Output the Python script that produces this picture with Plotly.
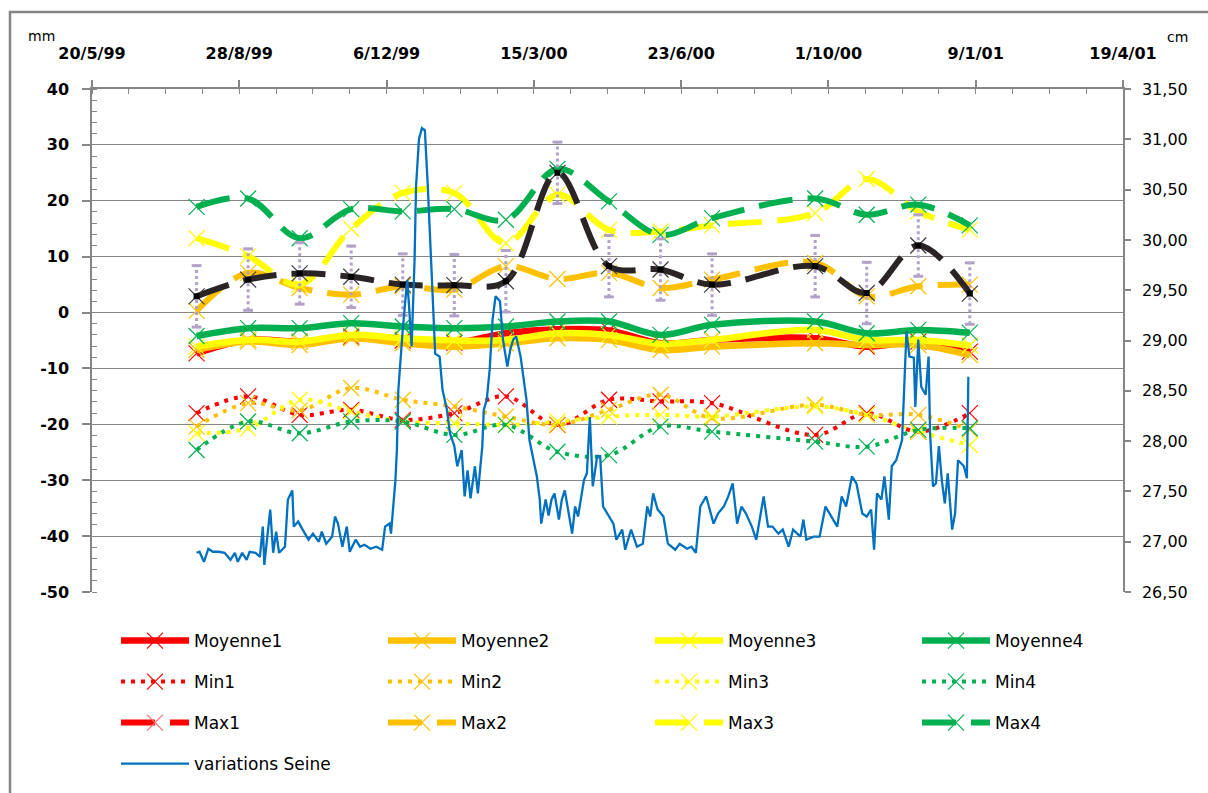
import pandas as pd
import plotly.graph_objects as go

# ---------------------------------------------------------------- données
debut = pd.Timestamp("1999-05-20")

# Relevés tous les 35 jours (pas de relevé à la mi-août 2000)
dates_releves = ["1999-07-30", "1999-09-03", "1999-10-08", "1999-11-12", "1999-12-17",
                 "2000-01-21", "2000-02-25", "2000-03-31", "2000-05-05", "2000-06-09",
                 "2000-07-14", "2000-09-22", "2000-10-27", "2000-12-01", "2001-01-05"]

moyenne1 = [-7.3, -4.9, -5.2, -4.3, -5.0, -5.4, -3.7, -3.0, -3.2, -5.5, -4.9, -4.6, -6.1, -5.2, -7.0]
moyenne2 = [-6.7, -5.2, -5.8, -4.6, -5.5, -6.1, -5.5, -4.6, -4.9, -6.7, -6.1, -5.5, -5.8, -5.8, -7.6]
moyenne3 = [-6.1, -4.9, -5.2, -4.0, -4.6, -5.0, -4.9, -3.7, -4.0, -5.6, -4.9, -3.1, -4.9, -4.9, -5.9]
moyenne4 = [-4.2, -2.8, -2.8, -1.9, -2.5, -2.8, -2.5, -1.6, -1.6, -4.0, -2.2, -1.6, -3.7, -3.1, -3.6]

min1 = [-18.0, -15.0, -18.3, -17.4, -19.2, -18.0, -15.0, -20.1, -15.6, -15.9, -16.2, -21.9, -18.0, -21.3, -18.0]
min2 = [-20.4, -16.2, -17.5, -13.5, -15.6, -16.8, -18.6, -20.1, -17.4, -14.7, -18.9, -16.5, -18.3, -18.3, -21.0]
min3 = [-21.6, -20.7, -15.6, -17.7, -19.5, -19.8, -20.1, -19.5, -18.6, -18.3, -18.6, -16.8, -18.3, -21.3, -23.7]
min4 = [-24.6, -19.5, -21.6, -19.5, -19.5, -21.9, -20.1, -24.9, -25.5, -20.4, -21.3, -23.1, -24.0, -21.0, -20.7]

max1 = [2.9, 5.9, 7.0, 6.4, 5.0, 4.9, 5.6, 25.0, 8.3, 7.7, 5.0, 8.3, 3.5, 12.0, 3.4]
max2 = [0.3, 7.1, 4.4, 3.2, 4.7, 4.1, 8.3, 6.0, 7.1, 4.4, 5.9, 8.9, 2.9, 4.7, 5.0]
max3 = [13.3, 10.1, 5.0, 15.0, 21.4, 21.4, 12.4, 21.1, 14.8, 14.5, 15.6, 17.8, 23.9, 18.1, 14.8]
max4 = [18.9, 20.4, 13.3, 18.5, 18.1, 18.5, 16.6, 25.7, 19.9, 13.9, 16.9, 20.4, 17.5, 19.3, 15.6]
ecart_max1 = 5.5   # barre d'erreur (mm)

# Cote de la Seine (cm) : jour compté depuis le 20/5/99
seine_jours = [
    71, 73, 76, 79, 82, 86, 90, 94, 97, 99,
    102, 105, 107, 111, 114, 116, 117, 121, 123, 125,
    127, 131, 133, 136, 137, 140, 143, 147, 150, 154,
    156, 159, 163, 165, 167, 170, 173, 175, 179, 182,
    185, 189, 193, 197, 199, 202, 203, 206, 207, 208,
    211, 214, 215, 217, 219, 220, 222, 224, 226, 228,
    231, 233, 236, 238, 241, 243, 246, 248, 251, 253,
    255, 257, 260, 262, 265, 266, 268, 270, 272, 274,
    277, 279, 282, 284, 286, 288, 291, 293, 295, 297,
    300, 302, 304, 305, 308, 310, 312, 314, 317, 319,
    321, 323, 326, 328, 330, 334, 336, 338, 340, 343,
    345, 347, 350, 354, 356, 360, 362, 366, 370, 374,
    377, 379, 381, 384, 388, 391, 396, 399, 404, 407,
    410, 413, 417, 422, 425, 429, 432, 435, 438, 441,
    444, 448, 451, 456, 459, 462, 466, 469, 473, 476,
    481, 483, 485, 490, 494, 498, 502, 506, 509, 512,
    516, 519, 523, 526, 529, 531, 533, 536, 538, 541,
    543, 546, 550, 551, 553, 555, 558, 559, 561, 563,
    566, 568, 569, 571, 573, 575, 577, 579, 581, 584,
    586, 588, 592, 594, 595]
seine_cm = [
    26.89, 26.90, 26.80, 26.93, 26.90, 26.90, 26.89, 26.82, 26.89, 26.80,
    26.89, 26.82, 26.90, 26.89, 26.85, 27.15, 26.77, 27.32, 26.89, 27.10,
    26.89, 26.95, 27.42, 27.51, 27.15, 27.20, 27.12, 27.02, 27.08, 27.00,
    27.10, 26.98, 27.05, 27.25, 27.18, 26.95, 27.15, 26.90, 27.02, 26.95,
    26.97, 26.93, 26.95, 26.92, 27.15, 27.18, 27.08, 27.61, 27.91, 28.51,
    29.11, 29.60, 29.40, 28.94, 29.80, 30.53, 31.00, 31.11, 31.09, 30.53,
    29.54, 28.87, 28.84, 28.51, 28.31, 28.08, 27.95, 27.75, 27.91, 27.45,
    27.71, 27.43, 27.75, 27.48, 27.95, 28.31, 28.41, 28.71, 29.21, 29.44,
    29.39, 29.01, 28.74, 28.91, 29.01, 29.04, 28.84, 28.61, 28.41, 28.01,
    27.81, 27.65, 27.42, 27.18, 27.42, 27.26, 27.42, 27.48, 27.22, 27.42,
    27.51, 27.32, 27.08, 27.35, 27.25, 27.61, 27.68, 28.24, 27.55, 27.85,
    27.85, 27.35, 27.28, 27.18, 27.02, 27.12, 26.92, 27.12, 26.95, 26.98,
    27.35, 27.25, 27.48, 27.32, 27.25, 26.98, 26.92, 26.98, 26.93, 26.95,
    26.89, 27.35, 27.45, 27.18, 27.28, 27.35, 27.45, 27.58, 27.18, 27.35,
    27.28, 27.15, 27.02, 27.45, 27.15, 27.15, 27.08, 27.12, 26.95, 27.12,
    27.05, 27.22, 27.02, 27.05, 27.05, 27.35, 27.25, 27.15, 27.45, 27.35,
    27.65, 27.58, 27.28, 27.25, 27.32, 26.92, 27.48, 27.42, 27.65, 27.22,
    27.75, 27.81, 28.01, 28.41, 29.09, 28.84, 28.83, 28.34, 29.01, 28.54,
    28.46, 28.84, 28.08, 27.55, 27.58, 27.95, 27.61, 27.38, 27.68, 27.12,
    27.28, 27.81, 27.75, 27.63, 28.64]

# Axe des dates : graduations tous les 100 jours
x_ticks = ["1999-05-20", "1999-08-28", "1999-12-06", "2000-03-15",
           "2000-06-23", "2000-10-01", "2001-01-09", "2001-04-19"]
x_labels = ["20/5/99", "28/8/99", "6/12/99", "15/3/00",
            "23/6/00", "1/10/00", "9/1/01", "19/4/01"]

# Axe de gauche (mm) : libellés avec un simple trait d'union
y_ticks = [-50, -40, -30, -20, -10, 0, 10, 20, 30, 40]
y_labels = [str(v) for v in y_ticks]

# ---------------------------------------------------------------- mise en page
W, H = 1208, 793
ML, MR, MT, MB = 92, 85, 89, 201
PW, PH = W - ML - MR, H - MT - MB


def fx(p):
    """pixel horizontal -> coordonnée papier"""
    return (p - ML) / PW


def fy(p):
    """pixel vertical -> coordonnée papier"""
    return (H - MB - p) / PH


ROUGE, ORANGE, JAUNE, VERT = "#FF0000", "#FFC000", "#FFFF00", "#00B050"
BLEU, FONCE, LAVANDE, GRIS = "#0070C0", "#2B2424", "#B3A2C7", "#868686"
POLICE = "DejaVu Sans"

TIRETS = "34px,15px"
POINTS = "4px,6px"

# légende : 4 colonnes x 4 lignes
col_px = [121, 388, 655, 922]
row_px = [641, 682, 723, 764]


def legende_id(rang, col):
    n = rang * 4 + col + 1
    return "legend" if n == 1 else f"legend{n}"


fig = go.Figure()


def serie(nom, y, couleur, dash, largeur, rang, col, afficher_legende=True):
    fig.add_trace(go.Scatter(
        x=dates_releves, y=y, name=nom, mode="lines+markers",
        line=dict(color=couleur, width=largeur, dash=dash, shape="spline", smoothing=1),
        marker=dict(symbol="x-thin", size=16, line=dict(color=couleur, width=1.2)),
        legend=legende_id(rang, col), showlegend=afficher_legende))


# moyennes (traits pleins)
serie("Moyenne1", moyenne1, ROUGE, "solid", 6.5, 0, 0)
serie("Moyenne2", moyenne2, ORANGE, "solid", 6.5, 0, 1)
serie("Moyenne3", moyenne3, JAUNE, "solid", 6.5, 0, 2)
serie("Moyenne4", moyenne4, VERT, "solid", 6.5, 0, 3)

# minima (pointillés)
serie("Min1", min1, ROUGE, POINTS, 4, 1, 0)
serie("Min2", min2, ORANGE, POINTS, 4, 1, 1)
serie("Min3", min3, JAUNE, POINTS, 4, 1, 2)
serie("Min4", min4, VERT, POINTS, 4, 1, 3)

# maxima (tirets)
serie("Max2", max2, ORANGE, TIRETS, 6, 2, 1)
serie("Max3", max3, JAUNE, TIRETS, 6, 2, 2)
serie("Max4", max4, VERT, TIRETS, 6, 2, 3)

# Max1 : barres d'erreur en pointillés lavande
ex, ey = [], []
for d, v in zip(dates_releves, max1):
    ex += [d, d, None]
    ey += [v - ecart_max1, v + ecart_max1, None]
fig.add_trace(go.Scatter(x=ex, y=ey, mode="lines", showlegend=False, hoverinfo="skip",
                         line=dict(color=LAVANDE, width=3, dash="3px,3px")))
fig.add_trace(go.Scatter(
    x=dates_releves * 2,
    y=[v - ecart_max1 for v in max1] + [v + ecart_max1 for v in max1],
    mode="markers", showlegend=False, hoverinfo="skip",
    marker=dict(symbol="line-ew", size=7, line=dict(color=LAVANDE, width=3))))

# Max1 : courbe foncée (mise en forme propre aux points)
fig.add_trace(go.Scatter(
    x=dates_releves, y=max1, name="Max1", mode="lines+markers", showlegend=False,
    line=dict(color=FONCE, width=6, dash=TIRETS, shape="spline", smoothing=1),
    marker=dict(symbol="x-thin", size=16, line=dict(color="#3A3A3A", width=1.2))))
fig.add_trace(go.Scatter(
    x=dates_releves, y=max1, mode="markers", showlegend=False, hoverinfo="skip",
    marker=dict(symbol="square", size=6, color="#000000")))

# entrée de légende de Max1 (couleur de la série)
fig.add_trace(go.Scatter(
    x=[None], y=[None], name="Max1", mode="lines+markers",
    line=dict(color=ROUGE, width=6, dash=TIRETS),
    marker=dict(symbol="x-thin", size=16, line=dict(color="#FF7070", width=1.2)),
    legend=legende_id(2, 0)))

# cote de la Seine (axe de droite)
seine_dates = [debut + pd.Timedelta(days=j) for j in seine_jours]
fig.add_trace(go.Scatter(
    x=seine_dates, y=seine_cm, name="variations Seine", mode="lines", yaxis="y2",
    line=dict(color=BLEU, width=2.3), legend=legende_id(3, 0)))

# ---------------------------------------------------------------- axes
fig.update_layout(
    width=W, height=H,
    margin=dict(l=ML, r=MR, t=MT, b=MB, autoexpand=False),
    paper_bgcolor="white", plot_bgcolor="white",
    separators=", ",
    font=dict(family=POLICE, color="black"),
    xaxis=dict(
        type="date", side="top", range=[x_ticks[0], x_ticks[-1]],
        tickmode="array", tickvals=x_ticks, ticktext=x_labels,
        ticks="outside", ticklen=7, tickwidth=1.5, tickcolor=GRIS,
        showline=True, linecolor=GRIS, linewidth=1.5,
        showgrid=False, zeroline=False,
        tickfont=dict(family=POLICE, size=16, color="black", weight="bold"),
        ticklabelstandoff=15,
        minor=dict(ticks="inside", ticklen=5, tickwidth=1, tickcolor=GRIS,
                   dtick=25 * 86400000, tick0=x_ticks[0], showgrid=False),
    ),
    yaxis=dict(
        range=[-50, 40], tickmode="array", tickvals=y_ticks, ticktext=y_labels,
        ticks="outside", ticklen=8, tickwidth=1.5, tickcolor=GRIS,
        showline=True, linecolor=GRIS, linewidth=1.5,
        showgrid=True, gridcolor=GRIS, gridwidth=1.3, zeroline=False,
        tickfont=dict(family=POLICE, size=16, color="black", weight="bold"),
        ticklabelstandoff=10,
        minor=dict(ticks="inside", ticklen=5, tickwidth=1, tickcolor=GRIS,
                   dtick=2, tick0=0, showgrid=False),
    ),
    yaxis2=dict(
        overlaying="y", side="right", range=[26.5, 31.5], tick0=26.5, dtick=0.5,
        tickformat=".2f",
        ticks="outside", ticklen=6, tickwidth=1.5, tickcolor=GRIS,
        showline=True, linecolor=GRIS, linewidth=1.5,
        showgrid=False, zeroline=False,
        tickfont=dict(family=POLICE, size=16, color="black"),
        ticklabelstandoff=8,
    ),
    annotations=[
        dict(text="mm", x=fx(41), y=fy(36), xref="paper", yref="paper",
             xanchor="center", yanchor="middle",
             showarrow=False, font=dict(family=POLICE, size=14)),
        dict(text="cm", x=fx(1177), y=fy(37), xref="paper", yref="paper",
             xanchor="center", yanchor="middle",
             showarrow=False, font=dict(family=POLICE, size=14)),
    ],
    shapes=[
        dict(type="rect", xref="paper", yref="paper",
             x0=fx(10), x1=fx(1240), y0=fy(830), y1=fy(12),
             line=dict(color=GRIS, width=2.5), fillcolor="rgba(0,0,0,0)"),
    ],
)

# une légende par entrée pour reproduire la grille 4 x 4
legendes = {}
for r in range(4):
    for c in range(4):
        lid = legende_id(r, c)
        legendes[lid] = dict(
            x=fx(col_px[c] - 5), y=fy(row_px[r]), xanchor="left", yanchor="middle",
            orientation="h", bgcolor="rgba(0,0,0,0)", borderwidth=0,
            itemwidth=68, font=dict(family=POLICE, size=17, color="black"))
fig.update_layout(**legendes)

fig.write_html("out.html")
